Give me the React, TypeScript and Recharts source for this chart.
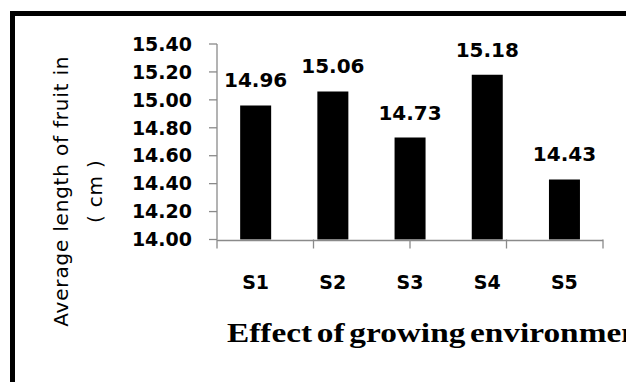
import React from "react";
import { BarChart, Bar, XAxis, YAxis, LabelList } from "recharts";

const categories = ["S1", "S2", "S3", "S4", "S5"];
const values = [14.96, 15.06, 14.73, 15.18, 14.43];
const yTicks = [14.0, 14.2, 14.4, 14.6, 14.8, 15.0, 15.2, 15.4];
const boundaryTicks = [0, 1, 2, 3, 4, 5];
const yTitleLines = ["Average length of fruit in", "( cm )"];
const xTitle = "Effect of growing environment";

const data = categories.map((c, i) => ({ name: c, value: values[i] }));

const AXIS_GRAY = "#8a8a8a";
const boldSans = { fontFamily: "DejaVu Sans", fontWeight: 700, fill: "#000" };

const YTitle = (props: any) => {
  const vb = props.viewBox || { x: 0, y: 44, width: 217, height: 196 };
  const cy = vb.y + vb.height * 0.753;
  return (
    <text
      transform={`translate(${vb.x + 68}, ${cy}) rotate(-90)`}
      textAnchor="middle"
      fontFamily="DejaVu Sans"
      fontSize={20}
      letterSpacing={0.8}
      fill="#000"
    >
      <tspan x={0} dy={0}>{yTitleLines[0]}</tspan>
      <tspan x={0} dy={34}>{yTitleLines[1]}</tspan>
    </text>
  );
};

const XTitle = (props: any) => {
  const vb = props.viewBox || { x: 217, y: 240, width: 386, height: 1 };
  return (
    <text
      transform={`translate(${vb.x + 10}, ${vb.y + 101}) scale(1.19, 1)`}
      fontFamily="Liberation Serif"
      fontWeight={700}
      fontSize={28}
      wordSpacing={-3}
      fill="#000"
    >
      {xTitle}
    </text>
  );
};

const NoTick = () => <g />;

export default function App() {
  return (
    <div
      style={{
        position: "absolute",
        left: 0,
        top: 0,
        width: 626,
        height: 382,
        overflow: "hidden",
        background: "#fff",
      }}
    >
      <div
        style={{
          position: "absolute",
          left: 10,
          top: 11,
          width: 800,
          height: 600,
          border: "5px solid #000",
          boxSizing: "border-box",
        }}
      />
      <div style={{ position: "absolute", left: 0, top: 0 }}>
        <BarChart
          width={626}
          height={382}
          data={data}
          margin={{ top: 44, right: 23, bottom: 140.5, left: 0 }}
          barCategoryGap="30%"
        >
          <XAxis
            xAxisId="cat"
            dataKey="name"
            height={1}
            tickLine={false}
            tickSize={0}
            tickMargin={35}
            axisLine={{ stroke: AXIS_GRAY, strokeWidth: 1.3 }}
            tick={{ ...boldSans, fontSize: 19 }}
            label={<XTitle />}
          />
          <XAxis
            xAxisId="bounds"
            type="number"
            domain={[0, 5]}
            ticks={boundaryTicks}
            interval={0}
            tick={NoTick}
            tickSize={9}
            axisLine={false}
            tickLine={{ stroke: AXIS_GRAY, strokeWidth: 1.3 }}
            height={1}
            allowDataOverflow
          />
          <YAxis
            width={217}
            domain={[14, 15.4]}
            ticks={yTicks}
            interval={0}
            tickFormatter={(v: number) => v.toFixed(2)}
            tickSize={8}
            tickMargin={17}
            axisLine={{ stroke: AXIS_GRAY, strokeWidth: 1.3 }}
            tickLine={{ stroke: AXIS_GRAY, strokeWidth: 1.3 }}
            tick={{ ...boldSans, fontSize: 19 }}
            label={<YTitle />}
          />
          <Bar xAxisId="cat" dataKey="value" fill="#000" isAnimationActive={false}>
            <LabelList
              dataKey="value"
              position="top"
              offset={18}
              formatter={(v: any) => Number(v).toFixed(2)}
              style={{ ...boldSans, fontSize: 20 }}
            />
          </Bar>
        </BarChart>
      </div>
    </div>
  );
}
